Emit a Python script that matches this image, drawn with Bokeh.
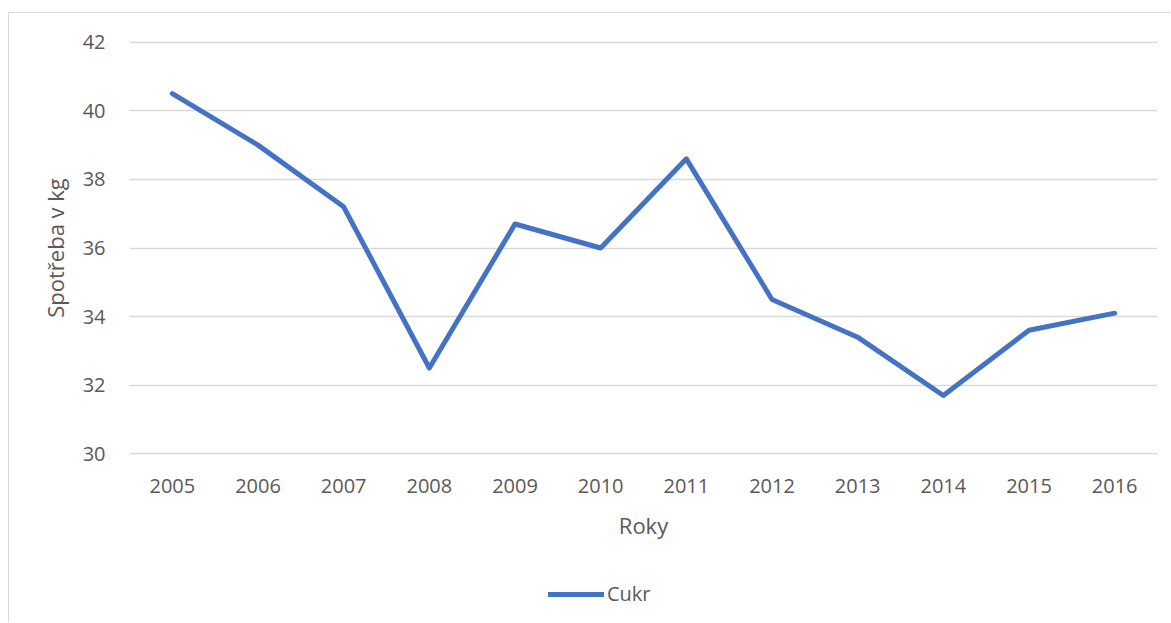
from bokeh.plotting import figure
from bokeh.layouts import column
from bokeh.models import (ColumnDataSource, FactorRange, Range1d, FixedTicker,
                          Legend, LegendItem)
from bokeh.embed import file_html
from bokeh.resources import INLINE

# Roční spotřeba cukru na obyvatele (kg)
years = ["2005", "2006", "2007", "2008", "2009", "2010",
         "2011", "2012", "2013", "2014", "2015", "2016"]
cukr = [40.5, 39.0, 37.2, 32.5, 36.7, 36.0, 38.6, 34.5, 33.4, 31.7, 33.6, 34.1]
y_ticks = [30, 32, 34, 36, 38, 40, 42]

series_name = "Cukr"
x_title = "Roky"
y_title = "Spotřeba v kg"

FONT = "Open Sans"
TEXT = "#595959"
GRID = "#d9d9d9"
BLUE = "#4472C4"
LINE_STYLE = dict(line_color=BLUE, line_width=5, line_cap="round", line_join="round")

source = ColumnDataSource(data=dict(year=years, value=cukr))

# ---- main chart -------------------------------------------------------------
p = figure(
    width=1161, height=560,
    x_range=FactorRange(*years),
    # small pad so the outer gridlines are not clipped by the frame
    y_range=Range1d(y_ticks[0] - 0.05, y_ticks[-1] + 0.05),
    output_backend="svg", toolbar_location=None,
    min_border_left=120, min_border_right=13,
    min_border_top=27, min_border_bottom=118,
)
p.outline_line_color = None
p.background_fill_color = "white"
p.border_fill_color = "white"

p.line("year", "value", source=source, **LINE_STYLE)

p.yaxis.ticker = FixedTicker(ticks=y_ticks)
for ax in (p.xaxis[0], p.yaxis[0]):
    ax.axis_line_color = None
    ax.major_tick_line_color = None
    ax.minor_tick_line_color = None
    ax.major_label_text_font = FONT
    ax.major_label_text_font_size = "20px"
    ax.major_label_text_color = TEXT
    ax.axis_label_text_font = FONT
    ax.axis_label_text_font_size = "22px"
    ax.axis_label_text_font_style = "normal"
    ax.axis_label_text_color = TEXT

p.xaxis.axis_label = x_title
p.yaxis.axis_label = y_title
p.yaxis.major_label_standoff = 18
p.xaxis.major_label_standoff = 17
p.xaxis.axis_label_standoff = 14
p.yaxis.axis_label_standoff = 10

p.xgrid.grid_line_color = None
p.ygrid.grid_line_color = GRID
p.ygrid.grid_line_width = 1.5

# ---- legend strip under the chart ---------------------------------------------
# the strip shares the series' source; its y window lies above the data,
# so only the legend key of the series shows here
q = figure(
    width=1161, height=49,
    x_range=FactorRange(*years), y_range=Range1d(100, 101),
    output_backend="svg", toolbar_location=None,
    x_axis_location=None, y_axis_location=None,
    min_border=0,
)
q.outline_line_color = None
q.xgrid.grid_line_color = None
q.ygrid.grid_line_color = None
q.border_fill_color = "white"

key = q.line("year", "value", source=source, **LINE_STYLE)
legend = Legend(items=[LegendItem(label=series_name, renderers=[key])],
                location=(419, 15), orientation="horizontal",
                label_text_font=FONT, label_text_font_size="20px",
                label_text_color=TEXT, glyph_width=56, glyph_height=20,
                label_standoff=3, padding=0, margin=0,
                border_line_color=None, background_fill_alpha=0)
q.add_layout(legend)

page = column(p, q, spacing=0, margin=(12, 0, 0, 8),
              styles={"border-top": "1px solid #d9d9d9",
                      "border-left": "1px solid #d9d9d9"})

open("out.html", "w").write(file_html(page, INLINE))
